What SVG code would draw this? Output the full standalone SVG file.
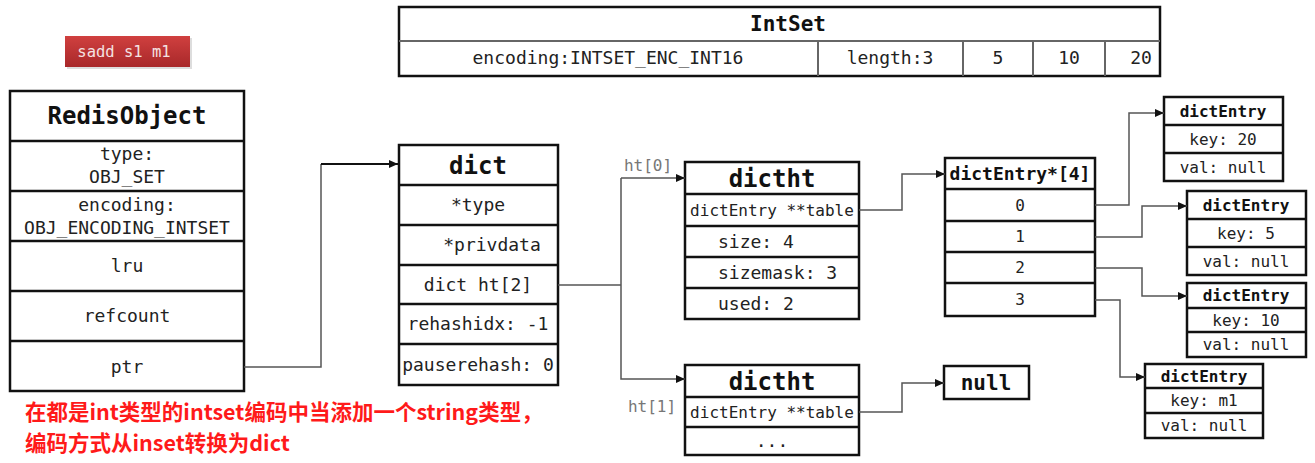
<svg xmlns="http://www.w3.org/2000/svg" width="1315" height="463" viewBox="0 0 1315 463">
<defs>
<linearGradient id="red" x1="0" y1="0" x2="0" y2="1">
<stop offset="0" stop-color="#d0403f"/>
<stop offset="1" stop-color="#a8282a"/>
</linearGradient>
<marker id="arr" markerWidth="10" markerHeight="10" refX="9" refY="5" orient="auto" markerUnits="userSpaceOnUse">
<path d="M0,1 L9,5 L0,9 Z" fill="#111"/>
</marker>
</defs>
<style>
text{font-family:"DejaVu Sans Mono","Liberation Mono",monospace;fill:#222;text-anchor:middle}
.b{font-weight:bold;fill:#111}
.box{fill:#fff;stroke:#111;stroke-width:2.5}
.ln{stroke:#111;stroke-width:2.5}
.gl{stroke:#666;stroke-width:2}
.f18{font-size:18px}
.f16{font-size:16px}
.c{fill:none;stroke:#555;stroke-width:1.5}
.lab{font-size:16px;fill:#777}
.red{font-family:"Noto Sans CJK SC","Microsoft YaHei",sans-serif;font-weight:bold;font-size:21.5px;fill:#ff1a1a;text-anchor:start}
</style>
<rect width="1315" height="463" fill="#fff"/>

<g id="sadd">
<rect x="67" y="38" width="125" height="31" fill="#bbb" opacity="0.5"/>
<rect x="65" y="36" width="125" height="31" fill="url(#red)"/>
<text x="124" y="57" style="font-size:15.5px;fill:#f4e2e2">sadd s1 m1</text>
</g>

<g id="intset">
<rect class="box" x="399" y="7" width="761" height="69"/>
<line class="gl" x1="399" y1="41" x2="1160" y2="41"/>
<line class="gl" x1="818" y1="41" x2="818" y2="76"/>
<line class="gl" x1="963" y1="41" x2="963" y2="76"/>
<line class="gl" x1="1033" y1="41" x2="1033" y2="76"/>
<line class="gl" x1="1105" y1="41" x2="1105" y2="76"/>
<text class="b" x="788" y="31" style="font-size:21px">IntSet</text>
<text class="f18" x="608" y="64">encoding:INTSET_ENC_INT16</text>
<text class="f18" x="890" y="64">length:3</text>
<text class="f18" x="998" y="64">5</text>
<text class="f18" x="1069" y="64">10</text>
<text class="f18" x="1141" y="64">20</text>
</g>

<g id="redisobject">
<rect class="box" x="10" y="91" width="234" height="300"/>
<line class="ln" x1="10" y1="141" x2="244" y2="141"/>
<line class="ln" x1="10" y1="191" x2="244" y2="191"/>
<line class="ln" x1="10" y1="241" x2="244" y2="241"/>
<line class="ln" x1="10" y1="291" x2="244" y2="291"/>
<line class="ln" x1="10" y1="341" x2="244" y2="341"/>
<text class="b" x="127" y="124" style="font-size:24px">RedisObject</text>
<text class="f18" x="127" y="160">type:</text>
<text class="f18" x="127" y="183">OBJ_SET</text>
<text class="f18" x="127" y="211">encoding:</text>
<text class="f18" x="127" y="234">OBJ_ENCODING_INTSET</text>
<text class="f18" x="127" y="272">lru</text>
<text class="f18" x="127" y="322">refcount</text>
<text class="f18" x="127" y="373">ptr</text>
</g>

<g id="dict">
<rect class="box" x="399" y="145" width="159" height="240"/>
<line class="ln" x1="399" y1="185" x2="558" y2="185"/>
<line class="ln" x1="399" y1="225" x2="558" y2="225"/>
<line class="ln" x1="399" y1="265" x2="558" y2="265"/>
<line class="ln" x1="399" y1="304" x2="558" y2="304"/>
<line class="ln" x1="399" y1="344" x2="558" y2="344"/>
<text class="b" x="478" y="174" style="font-size:24px">dict</text>
<text class="f18" x="478" y="211">*type</text>
<text class="f18" x="492" y="251">*privdata</text>
<text class="f18" x="478" y="291">dict ht[2]</text>
<text class="f18" x="478" y="330">rehashidx: -1</text>
<text class="f18" x="478" y="371">pauserehash: 0</text>
</g>

<g id="dictht0">
<rect class="box" x="685" y="162" width="174" height="157"/>
<line class="ln" x1="685" y1="194" x2="859" y2="194"/>
<line class="ln" x1="685" y1="226" x2="859" y2="226"/>
<line class="ln" x1="685" y1="257" x2="859" y2="257"/>
<line class="ln" x1="685" y1="288" x2="859" y2="288"/>
<text class="b" x="772" y="187" style="font-size:24px">dictht</text>
<text class="f16" x="772" y="216">dictEntry **table</text>
<text class="f18" x="718" y="248" style="text-anchor:start">size: 4</text>
<text class="f18" x="718" y="279" style="text-anchor:start">sizemask: 3</text>
<text class="f18" x="718" y="310" style="text-anchor:start">used: 2</text>
</g>

<g id="dictht1">
<rect class="box" x="685" y="365" width="174" height="90"/>
<line class="ln" x1="685" y1="397" x2="859" y2="397"/>
<line class="ln" x1="685" y1="427" x2="859" y2="427"/>
<text class="b" x="772" y="390" style="font-size:24px">dictht</text>
<text class="f16" x="772" y="418">dictEntry **table</text>
<text class="f18" x="772" y="447">...</text>
</g>

<g id="table">
<rect class="box" x="945" y="158" width="150" height="158"/>
<line class="ln" x1="945" y1="189" x2="1095" y2="189"/>
<line class="ln" x1="945" y1="221" x2="1095" y2="221"/>
<line class="ln" x1="945" y1="252" x2="1095" y2="252"/>
<line class="ln" x1="945" y1="283" x2="1095" y2="283"/>
<text class="b f18" x="1020" y="180">dictEntry*[4]</text>
<text class="f16" x="1020" y="211">0</text>
<text class="f16" x="1020" y="242">1</text>
<text class="f16" x="1020" y="273">2</text>
<text class="f16" x="1020" y="305">3</text>
</g>

<g id="null">
<rect class="box" x="944" y="366" width="85" height="33"/>
<text class="b" x="986" y="390" style="font-size:21px">null</text>
</g>

<g id="entry20">
<rect class="box" x="1164" y="97" width="119" height="84"/>
<line class="ln" x1="1164" y1="125" x2="1283" y2="125"/>
<line class="ln" x1="1164" y1="153" x2="1283" y2="153"/>
<text class="b f16" x="1223" y="117">dictEntry</text>
<text class="f16" x="1223" y="145">key: 20</text>
<text class="f16" x="1223" y="173">val: null</text>
</g>

<g id="entry5">
<rect class="box" x="1187" y="191" width="119" height="84"/>
<line class="ln" x1="1187" y1="219" x2="1306" y2="219"/>
<line class="ln" x1="1187" y1="247" x2="1306" y2="247"/>
<text class="b f16" x="1246" y="211">dictEntry</text>
<text class="f16" x="1246" y="239">key: 5</text>
<text class="f16" x="1246" y="267">val: null</text>
</g>

<g id="entry10">
<rect class="box" x="1187" y="283" width="119" height="74"/>
<line class="ln" x1="1187" y1="308" x2="1306" y2="308"/>
<line class="ln" x1="1187" y1="332" x2="1306" y2="332"/>
<text class="b f16" x="1246" y="301">dictEntry</text>
<text class="f16" x="1246" y="326">key: 10</text>
<text class="f16" x="1246" y="350">val: null</text>
</g>

<g id="entrym1">
<rect class="box" x="1145" y="364" width="118" height="74"/>
<line class="ln" x1="1145" y1="388" x2="1263" y2="388"/>
<line class="ln" x1="1145" y1="413" x2="1263" y2="413"/>
<text class="b f16" x="1204" y="382">dictEntry</text>
<text class="f16" x="1204" y="406">key: m1</text>
<text class="f16" x="1204" y="431">val: null</text>
</g>

<g id="connectors">
<polyline class="c" points="244,367 321,367 321,164"/>
<polyline points="321,164 398,164" fill="none" stroke="#111" stroke-width="2" marker-end="url(#arr)"/>
<polyline class="c" points="558,285 621,285"/>
<polyline class="c" points="621,178 621,379 685,379" marker-end="url(#arr)"/>
<polyline class="c" points="621,178 685,178" marker-end="url(#arr)"/>
<polyline class="c" points="859,210 902,210 902,174 945,174" marker-end="url(#arr)"/>
<polyline class="c" points="859,412 902,412 902,383 944,383" marker-end="url(#arr)"/>
<polyline class="c" points="1095,205 1129,205 1129,113 1164,113" marker-end="url(#arr)"/>
<polyline class="c" points="1095,237 1142,237 1142,206 1187,206" marker-end="url(#arr)"/>
<polyline class="c" points="1095,268 1142,268 1142,296 1187,296" marker-end="url(#arr)"/>
<polyline class="c" points="1095,300 1120,300 1120,377 1145,377" marker-end="url(#arr)"/>
<text class="lab" x="648" y="171">ht[0]</text>
<text class="lab" x="652" y="412">ht[1]</text>
</g>

<g id="note">
<text class="red" x="25" y="420">在都是int类型的intset编码中当添加一个string类型，</text>
<text class="red" x="25" y="451">编码方式从inset转换为dict</text>
</g>
</svg>
